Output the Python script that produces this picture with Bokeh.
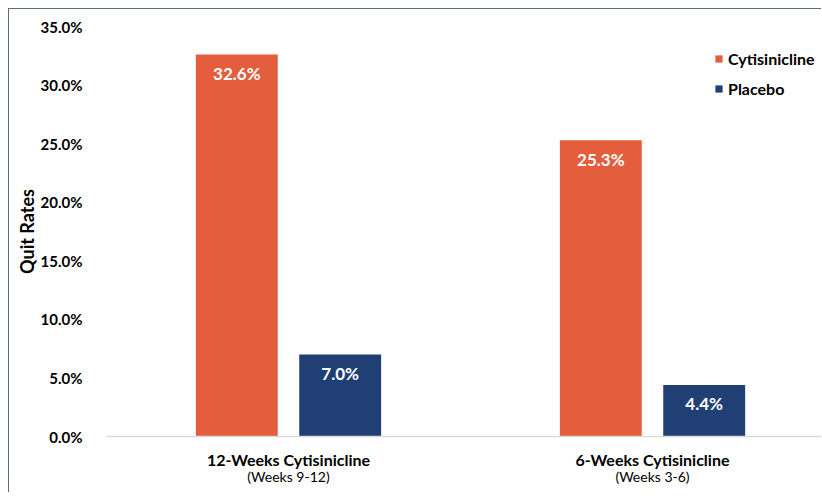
from bokeh.plotting import figure
from bokeh.models import (ColumnDataSource, Range1d, LinearAxis, FixedTicker,
                          PrintfTickFormatter, Legend, LegendItem)
from bokeh.core.properties import value
from bokeh.embed import file_html
from bokeh.resources import INLINE

groups = ["12-Weeks Cytisinicline", "6-Weeks Cytisinicline"]
subtitles = ["(Weeks 9-12)", "(Weeks 3-6)"]
series = ["Cytisinicline", "Placebo"]
cytisinicline = [32.6, 25.3]
placebo = [7.0, 4.4]
y_ticks = [0, 5, 10, 15, 20, 25, 30, 35]

FONT = "Lato"
ORANGE = "#E45E3D"
NAVY = "#1F3F75"

p = figure(width=813, height=484, output_backend="svg", toolbar_location=None,
           x_range=Range1d(0, 1.967), y_range=Range1d(0, 35),
           min_border_left=97, min_border_right=0, min_border_top=17,
           min_border_bottom=57, x_axis_type=None)
p.outline_line_color = None
p.xgrid.visible = False
p.ygrid.visible = False
p.styles = {"margin-left": "8px", "margin-top": "8px",
            "border-left": "1px solid #5b6b80", "border-top": "1px solid #5b6b80"}

centers = [i + 0.5 for i in range(len(groups))]
off = 0.142
bw = 0.225

src_c = ColumnDataSource(dict(x=[c - off for c in centers], y=cytisinicline,
                              lbl=["%.1f%%" % v for v in cytisinicline]))
src_p = ColumnDataSource(dict(x=[c + off for c in centers], y=placebo,
                              lbl=["%.1f%%" % v for v in placebo]))

r1 = p.vbar(x="x", top="y", width=bw, source=src_c, fill_color=ORANGE, line_color=None)
r2 = p.vbar(x="x", top="y", width=bw, source=src_p, fill_color=NAVY, line_color=None)

for s in (src_c, src_p):
    p.text(x="x", y="y", text="lbl", source=s, y_offset=19, text_align="center",
           text_baseline="middle", text_color="white", text_font=value(FONT),
           text_font_style="bold", text_font_size="17px")

# y axis
ya = p.yaxis[0]
ya.ticker = FixedTicker(ticks=y_ticks)
ya.formatter = PrintfTickFormatter(format="%.1f%%")
ya.axis_line_color = None
ya.major_tick_line_color = None
ya.minor_tick_line_color = None
ya.major_label_standoff = 18
ya.major_label_text_font = FONT
ya.major_label_text_font_style = "bold"
ya.major_label_text_font_size = "15px"
ya.major_label_text_color = "#000000"
ya.axis_label = "Quit Rates"
ya.axis_label_text_font = FONT
ya.axis_label_text_font_style = "bold"
ya.axis_label_text_font_size = "18px"
ya.axis_label_text_color = "#000000"
ya.axis_label_standoff = 0

# x axes: bold category names, then subtitles
xa1 = LinearAxis(ticker=FixedTicker(ticks=centers),
                 major_label_overrides={c: g for c, g in zip(centers, groups)})
xa1.axis_line_color = "#d9d9d9"
xa1.axis_line_width = 1.5
xa1.major_tick_line_color = None
xa1.minor_tick_line_color = None
xa1.major_tick_out = 0
xa1.major_tick_in = 0
xa1.major_label_standoff = 13
xa1.major_label_text_font = FONT
xa1.major_label_text_font_style = "bold"
xa1.major_label_text_font_size = "16px"
xa1.major_label_text_color = "#000000"
p.add_layout(xa1, "below")

xa2 = LinearAxis(ticker=FixedTicker(ticks=centers),
                 major_label_overrides={c: s for c, s in zip(centers, subtitles)})
xa2.axis_line_color = None
xa2.major_tick_line_color = None
xa2.minor_tick_line_color = None
xa2.major_tick_out = 0
xa2.major_tick_in = 0
xa2.major_label_standoff = -4
xa2.major_label_text_font = FONT
xa2.major_label_text_font_size = "14px"
xa2.major_label_text_color = "#000000"
p.add_layout(xa2, "below")

legend = Legend(items=[LegendItem(label=series[0], renderers=[r1]),
                       LegendItem(label=series[1], renderers=[r2])],
                location=(608, 338))
legend.border_line_color = None
legend.background_fill_alpha = 0
legend.padding = 0
legend.margin = 0
legend.spacing = 11
legend.glyph_width = 9
legend.glyph_height = 9
legend.label_height = 18
legend.label_standoff = 5
legend.label_text_font = FONT
legend.label_text_font_style = "bold"
legend.label_text_font_size = "16px"
legend.label_text_color = "#000000"
p.add_layout(legend, "center")

open("out.html", "w").write(file_html(p, INLINE))
